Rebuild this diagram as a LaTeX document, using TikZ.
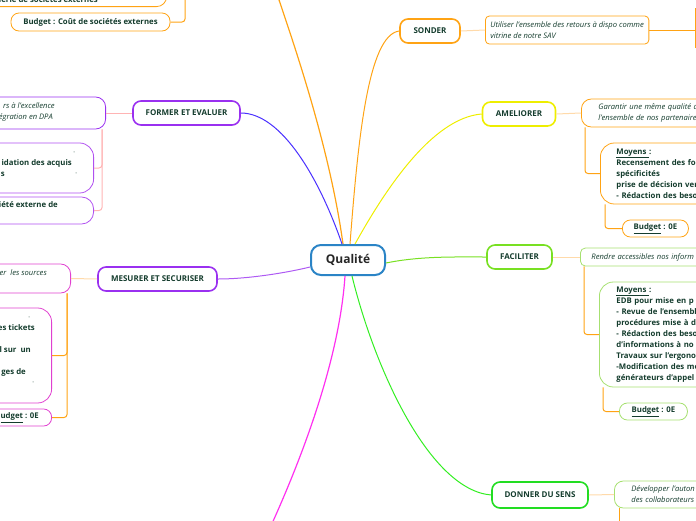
\documentclass[tikz,border=0pt]{standalone}
\usepackage{fontspec}
\setmainfont{Open Sans}
\usepackage{tikz}
\usetikzlibrary{positioning,calc}
\definecolor{txtgreen}{RGB}{20,60,45}
\definecolor{qblue}{RGB}{43,132,198}
\definecolor{orangeA}{RGB}{255,163,20}
\definecolor{peach}{RGB}{255,218,170}
\definecolor{pinklink}{RGB}{255,180,180}
\definecolor{yellowA}{RGB}{238,238,0}
\definecolor{limeA}{RGB}{120,224,34}
\definecolor{limeB}{RGB}{166,224,112}
\definecolor{greenA}{RGB}{34,221,34}
\definecolor{purpleA}{RGB}{154,48,240}
\definecolor{violetB}{RGB}{176,80,240}
\definecolor{magentaA}{RGB}{224,64,208}
\definecolor{blueline}{RGB}{74,48,255}
\definecolor{magline}{RGB}{255,48,240}
\definecolor{greenline}{RGB}{51,238,34}
\tikzset{
  branchbox/.style={draw,line width=1.6pt,rounded corners=8pt,minimum height=24pt,font=\fontsize{8}{9}\selectfont\bfseries,text=txtgreen},
  ideabox/.style={draw,line width=0.8pt,rounded corners=6pt,font=\fontsize{7.6}{11}\selectfont\itshape,text=txtgreen,align=left},
  meansbox/.style={draw,line width=0.8pt,rounded corners=14pt,font=\fontsize{7.8}{11}\selectfont\bfseries,text=txtgreen,align=left},
  budgetbox/.style={draw,line width=0.8pt,rounded corners=8pt,minimum height=17pt,font=\fontsize{7.8}{9}\selectfont\bfseries,text=txtgreen},
  frag/.style={inner sep=0pt,anchor=east,font=\fontsize{7.8}{9}\selectfont\bfseries,text=txtgreen},
  peachlink/.style={draw=peach,line width=1pt},
  elbow/.style={draw=orangeA,line width=1pt,rounded corners=3pt},
}

\begin{document}
\begin{tikzpicture}[x=1pt,y=-1pt]
\useasboundingbox (0,0) rectangle (696,520);
\clip (0,0) rectangle (696,520);

% centre
\node[draw=qblue,line width=2pt,rounded corners=10pt,minimum width=74pt,minimum height=30pt,font=\fontsize{12}{14}\selectfont\bfseries,text=black!85] (qual) at (348,260) {Qualité};

% branches
\node[branchbox,draw=orangeA,minimum width=60pt] (sonder) at (430,31) {SONDER};
\node[branchbox,draw=yellowA,minimum width=73pt] (amel) at (519,114) {AMELIORER};
\node[branchbox,draw=limeA,minimum width=65pt] (fac) at (519.5,257) {FACILITER};
\node[branchbox,draw=greenA,minimum width=96pt,minimum height=26pt] (donner) at (540,495) {DONNER DU SENS};
\node[branchbox,draw=purpleA,minimum width=107pt] (former) at (186.5,113) {FORMER ET EVALUER};
\node[branchbox,draw=purpleA,minimum width=119pt] (mesurer) at (157.5,279) {MESURER ET SECURISER};
\coordinate (topend) at (277,-6);
\coordinate (bottomend) at (270,528);

\draw[orangeA,line width=1.2pt] ([xshift=-5pt]qual.north) .. controls (330,150) and (296,50) .. (topend);
\draw[orangeA,line width=1pt] ([xshift=2pt]qual.north) .. controls (358,140) and (368,35) .. (sonder.west);
\draw[blueline,line width=1pt] ([xshift=-6pt]qual.north) .. controls (320,180) and (282,113) .. (former.east);
\draw[yellowA,line width=1pt] ([xshift=7pt]qual.north) .. controls (385,190) and (432,118) .. (amel.west);
\draw[limeA,line width=1pt] ([yshift=-3pt]qual.east) .. controls (420,256) and (455,257) .. (fac.west);
\draw[purpleA!80,line width=1pt] ([yshift=-7pt]qual.west) .. controls (290,272) and (250,279) .. (mesurer.east);
\draw[magline,line width=1.2pt] ([xshift=-3pt]qual.south) .. controls (340,350) and (310,440) .. (bottomend);
\draw[greenline,line width=1pt] ([xshift=4pt]qual.south) .. controls (375,370) and (430,490) .. (donner.west);

% SONDER
\node[ideabox,draw=orangeA,rounded corners=4pt,inner xsep=5pt,minimum height=28pt,anchor=west] (sonderidea) at (485,30) {Utiliser l'ensemble des retours à dispo comme\\vitrine de notre SAV};
\draw[peachlink] (sonder.east) -- (sonderidea.west);
\coordinate (sonderout) at (695,30);
\draw[orangeA,line width=1pt] (sonderidea.east) -- (sonderout);
\draw[orangeA,line width=1pt] ([yshift=-18pt]sonderout) -- ([yshift=22pt]sonderout);

% AMELIORER
\node[ideabox,draw=orangeA,rounded corners=10pt,inner xsep=17pt,text width=150pt,minimum height=28pt,anchor=west] (amelidea) at (581,113) {Garantir une même qualité d\\l'ensemble de nos partenaire};
\node[meansbox,draw=orangeA,inner xsep=16pt,text width=168pt,minimum height=61pt,anchor=west] (amelmeans) at (600,173.5) {\underline{Moyens }:\\Recensement des fo\\spécificités\\prise de décision ver\\- Rédaction des beso};
\node[budgetbox,draw=orangeA,minimum width=66pt,anchor=west] (amelbudget) at (622,228.5) {\underline{Budget} : 0E};
\draw[peachlink] (amel.east) -- (amelidea.west);
\draw[elbow] ([xshift=4pt]amelidea.south west) |- (amelmeans.west);
\draw[elbow] ([xshift=5pt]amelmeans.south west) |- (amelbudget.west);

% FACILITER
\node[ideabox,draw=limeB,rounded corners=5pt,inner xsep=11pt,text width=150pt,minimum height=18pt,anchor=west] (facidea) at (580,257) {Rendre accessibles nos inform};
\node[meansbox,draw=limeB,inner xsep=17pt,text width=170pt,minimum height=105pt,anchor=west] (facmeans) at (599,334.5) {\underline{Moyens }:\\EDB pour mise en p\\- Revue de l'ensembl\\procédures mise à d\\- Rédaction des beso\\d'informations à no\\Travaux sur l'ergono\\-Modification des me\\générateurs d'appel};
\node[budgetbox,draw=limeB,minimum width=68pt,anchor=west] (facbudget) at (619,411.5) {\underline{Budget} : 0E};
\draw[peachlink] (fac.east) -- (facidea.west);
\draw[elbow] ([xshift=4pt]facidea.south west) |- (facmeans.west);
\draw[elbow] ([xshift=4pt]facmeans.south west) |- (facbudget.west);

% DONNER DU SENS
\node[ideabox,draw=limeB,rounded corners=9pt,inner xsep=17pt,text width=150pt,minimum height=27pt,anchor=west] (donidea) at (614,494.5) {Développer l'auton\\des collaborateurs};
\coordinate (donout) at (619,524);
\draw[peachlink] (donner.east) -- (donidea.west);
\draw[orangeA,line width=1pt] ([xshift=5pt]donidea.south west) -- (donout);

% FORMER ET EVALUER
\node[draw=purpleA,line width=0.8pt,rounded corners=10pt,minimum width=150pt,minimum height=32pt,anchor=east] (formidea) at (106,113) {};
\node[draw=violetB,line width=0.8pt,rounded corners=14pt,minimum width=150pt,minimum height=50pt,anchor=east] (formsuba) at (94,168) {};
\node[draw=violetB,line width=0.8pt,rounded corners=12pt,minimum width=150pt,minimum height=27pt,anchor=east] (formsubb) at (94,210.5) {};
\draw[draw=pinklink,line width=1pt] (former.west) -- (formidea.east);
\draw[draw=pinklink,line width=1pt,rounded corners=3pt] ([xshift=-4pt]formidea.south east) |- (formsuba.east);
\draw[draw=pinklink,line width=1pt,rounded corners=3pt] ([xshift=-4pt]formidea.south east) |- (formsubb.east);

% MESURER ET SECURISER
\node[draw=magentaA,line width=0.8pt,rounded corners=10pt,minimum width=150pt,minimum height=29pt,anchor=east] (mesidea) at (71,278.5) {};
\node[draw=magentaA,line width=0.8pt,rounded corners=14pt,minimum width=120pt,minimum height=95pt,anchor=east] (messub) at (52,355.5) {};
\node[draw=magentaA,line width=0.8pt,rounded corners=8pt,minimum width=120pt,minimum height=17pt,anchor=east] (mesbudget) at (52,417.5) {};
\draw[peachlink] (mesurer.west) -- (mesidea.east);
\draw[elbow] ([xshift=-4pt]mesidea.south east) |- (messub.east);
\draw[elbow] ([xshift=-4pt]mesidea.south east) |- (mesbudget.east);

% sociétés externes
\node[draw=orangeA,line width=0.8pt,rounded corners=10pt,minimum width=200pt,minimum height=30pt,anchor=south east] (extcost) at (167,7) {};
\node[budgetbox,draw=orangeA,minimum width=159pt,minimum height=18pt] (extbudget) at (90.5,22) {Budget : Coût de sociétés externes};
\coordinate (extline) at (185,-4);
\draw[elbow] (extline) |- (extbudget.east);

% texts cut by the edge
\foreach \i/\x/\y/\t in {1/55/106/{rs à l'excellence},2/53/117/{égration en DPA},3/47/273/{er\ \ les sources}}
  \node[frag,font=\fontsize{7.6}{9}\selectfont\itshape] (ital\i) at (\x,\y) {\t};
\foreach \i/\x/\y/\t in {1/72/163/{idation des acquis},2/5/174/{s},3/58/205/{iété externe de},4/35/328/{es tickets},5/31/350/{l sur\ \ un},6/26/372/{ges de},7/98/0/{ierie de sociétés externes}}
  \node[frag] (bold\i) at (\x,\y) {\t};
\foreach \i/\x/\y in {1/75/153,2/77/174,3/30/318,4/34/383}
  \node[frag,font=\fontsize{4}{5}\selectfont\bfseries] (dash\i) at (\x,\y) {-};
\node[frag] (mesbudgettext) at (39,417.5) {\underline{udget} : 0E};
\end{tikzpicture}
\end{document}
